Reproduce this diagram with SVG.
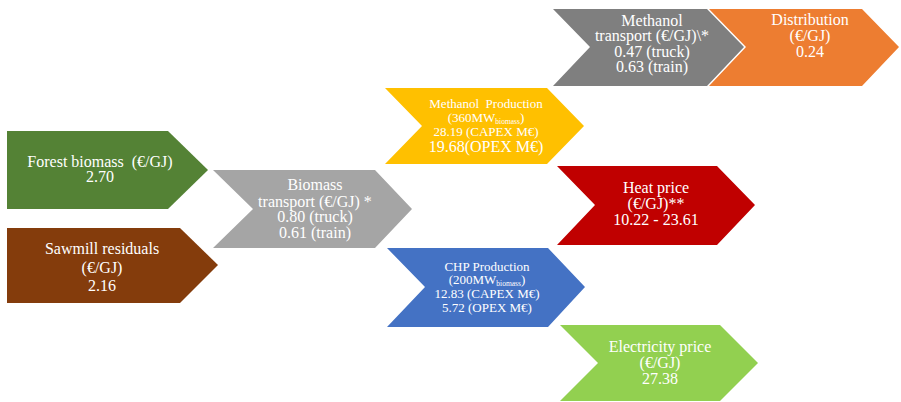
<svg xmlns="http://www.w3.org/2000/svg" width="901" height="402" viewBox="0 0 901 402">
  <style>
    text { font-family: "Liberation Serif", "Times New Roman", serif; fill: #ffffff; text-anchor: middle; font-size: 16px; white-space: pre; }
    .sm { font-size: 13px; }
    .sub { font-size: 7.5px; }
  </style>
  <rect width="901" height="402" fill="#ffffff"/>

  <!-- Feedstock -->
  <g id="forest-biomass">
    <polygon points="7,131 168,131 208,170 168,209 7,209" fill="#548235"/>
    <text x="100" y="167" xml:space="preserve">Forest biomass  (€/GJ)</text>
    <text x="100" y="182">2.70</text>
  </g>
  <g id="sawmill-residuals">
    <polygon points="7,228 180,228 218,265 180,303 7,303" fill="#843c0c"/>
    <text x="102" y="254">Sawmill residuals</text>
    <text x="102" y="273">(€/GJ)</text>
    <text x="102" y="291">2.16</text>
  </g>

  <!-- Biomass logistics -->
  <g id="biomass-transport">
    <polygon points="213,170 375,170 412,209 375,248 213,248 253,209" fill="#a5a5a5"/>
    <text x="315" y="190">Biomass</text>
    <text x="315" y="207">transport (€/GJ) *</text>
    <text x="315" y="222">0.80 (truck)</text>
    <text x="315" y="238">0.61 (train)</text>
  </g>

  <!-- Conversion plants -->
  <g id="methanol-production">
    <polygon points="385,88 547,88 584,126 547,164 385,164 422,126" fill="#ffc000"/>
    <text class="sm" x="486" y="108" xml:space="preserve">Methanol  Production</text>
    <text class="sm" x="486" y="122">(360MW<tspan class="sub" dy="2">biomass</tspan><tspan dy="-2">)</tspan></text>
    <text class="sm" x="486" y="136">28.19 (CAPEX M€)</text>
    <text x="486" y="152">19.68(OPEX M€)</text>
  </g>
  <g id="chp-production">
    <polygon points="387,248 548,248 585,287 548,327 387,327 425,287" fill="#4472c4"/>
    <text class="sm" x="487" y="271">CHP Production</text>
    <text class="sm" x="487" y="284">(200MW<tspan class="sub" dy="2">biomass</tspan><tspan dy="-2">)</tspan></text>
    <text class="sm" x="487" y="298">12.83 (CAPEX M€)</text>
    <text class="sm" x="487" y="312">5.72 (OPEX M€)</text>
  </g>

  <!-- Products -->
  <g id="methanol-transport">
    <polygon points="553,9 707,9 744,47 707,86 553,86 590,47" fill="#7f7f7f"/>
    <text x="652" y="26">Methanol</text>
    <text x="652" y="41">transport (€/GJ)\*</text>
    <text x="652" y="57">0.47 (truck)</text>
    <text x="652" y="72">0.63 (train)</text>
  </g>
  <g id="distribution">
    <polygon points="709,9 862,9 899,47 862,86 709,86 746,47" fill="#ed7d31"/>
    <text x="810" y="25">Distribution</text>
    <text x="810" y="41">(€/GJ)</text>
    <text x="810" y="57">0.24</text>
  </g>
  <g id="heat-price">
    <polygon points="557,166 717,166 755,205 717,245 557,245 595,205" fill="#c00000"/>
    <text x="656" y="193">Heat price</text>
    <text x="656" y="209">(€/GJ)**</text>
    <text x="656" y="225">10.22 - 23.61</text>
  </g>
  <g id="electricity-price">
    <polygon points="560,325 720,325 758,363 720,401 560,401 598,363" fill="#92d050"/>
    <text x="660" y="352">Electricity price</text>
    <text x="660" y="368">(€/GJ)</text>
    <text x="660" y="384">27.38</text>
  </g>
</svg>
